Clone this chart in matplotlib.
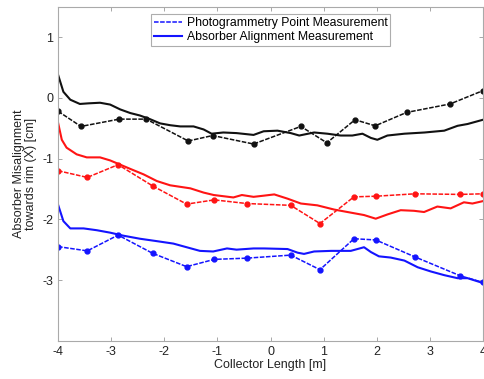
import matplotlib
matplotlib.use("Agg")
import matplotlib.pyplot as plt

plt.rcParams['font.family'] = ['Liberation Sans', 'DejaVu Sans']
plt.rcParams['axes.unicode_minus'] = False

# photogrammetry points (dashed with markers)
blackPtsX = [-4.0, -3.57, -2.85, -2.34, -1.55, -1.09, -0.32, 0.57, 1.06, 1.59, 1.97, 2.56, 3.38, 4.0]
blackPtsY = [-0.22, -0.47, -0.35, -0.35, -0.71, -0.62, -0.76, -0.47, -0.74, -0.36, -0.46, -0.24, -0.10, 0.12]
colorPtsX = [-4.0, -3.45, -2.87, -2.22, -1.58, -1.06, -0.45, 0.38, 0.93, 1.57, 1.98, 2.72, 3.57, 4.0]
redPtsY = [-1.20, -1.31, -1.10, -1.45, -1.75, -1.68, -1.74, -1.77, -2.07, -1.63, -1.62, -1.58, -1.59, -1.58]
bluePtsY = [-2.45, -2.52, -2.26, -2.56, -2.78, -2.66, -2.64, -2.59, -2.83, -2.32, -2.34, -2.62, -2.93, -3.04]

# absorber alignment measurement (solid)
blackLineX = [-4.0, -3.9, -3.77, -3.59, -3.43, -3.21, -3.02, -2.83, -2.64, -2.46, -2.27, -2.08, -1.89, -1.70,
              -1.45, -1.26, -1.11, -0.89, -0.64, -0.32, -0.13, 0.13, 0.38, 0.54, 0.82, 1.07, 1.32, 1.54,
              1.73, 1.89, 2.01, 2.20, 2.52, 2.90, 3.27, 3.52, 3.71, 4.0]
blackLineY = [0.38, 0.10, -0.03, -0.10, -0.09, -0.08, -0.11, -0.19, -0.25, -0.29, -0.35, -0.42, -0.45, -0.47,
              -0.47, -0.52, -0.59, -0.57, -0.58, -0.61, -0.55, -0.54, -0.58, -0.62, -0.57, -0.59, -0.62, -0.62,
              -0.59, -0.66, -0.69, -0.62, -0.59, -0.57, -0.54, -0.46, -0.43, -0.36]
redLineX = [-4.0, -3.93, -3.84, -3.65, -3.46, -3.21, -3.02, -2.83, -2.64, -2.39, -2.14, -1.89, -1.51, -1.26,
            -1.07, -0.70, -0.54, -0.32, -0.12, 0.07, 0.32, 0.57, 0.88, 1.20, 1.51, 1.76, 1.98, 2.20, 2.45,
            2.70, 2.89, 3.14, 3.39, 3.64, 3.80, 4.0]
redLineY = [-0.41, -0.69, -0.82, -0.93, -0.98, -0.98, -1.03, -1.10, -1.17, -1.26, -1.37, -1.44, -1.49, -1.56,
            -1.60, -1.64, -1.60, -1.63, -1.61, -1.59, -1.66, -1.74, -1.77, -1.84, -1.89, -1.93, -1.99, -1.92,
            -1.85, -1.86, -1.88, -1.79, -1.82, -1.72, -1.74, -1.70]
blueLineX = [-4.0, -3.9, -3.77, -3.52, -3.27, -3.02, -2.77, -2.46, -2.14, -1.83, -1.58, -1.33, -1.08, -0.82,
             -0.64, -0.32, -0.12, 0.32, 0.51, 0.63, 0.82, 1.14, 1.51, 1.76, 1.89, 2.04, 2.26, 2.52, 2.77,
             3.02, 3.27, 3.52, 3.71, 4.0]
blueLineY = [-1.76, -2.03, -2.15, -2.15, -2.18, -2.22, -2.27, -2.32, -2.36, -2.40, -2.46, -2.52, -2.53, -2.48,
             -2.50, -2.48, -2.48, -2.49, -2.55, -2.57, -2.53, -2.52, -2.52, -2.46, -2.54, -2.61, -2.63, -2.68,
             -2.79, -2.86, -2.92, -2.97, -2.97, -3.05]

xTicks = [-4, -3, -2, -1, 0, 1, 2, 3, 4]
yTicks = [-3, -2, -1, 0, 1]

fig = plt.figure(figsize=(4.84, 3.79), dpi=100)
ax = fig.add_axes([0.12, 0.101, 0.878, 0.881])

black = '#111111'
red = '#ff1414'
blue = '#1414ff'
dash = (0, (3, 1))

ax.plot(blackPtsX, blackPtsY, color=black, linestyle=dash, linewidth=1.1, marker='o', markersize=3.5)
ax.plot(blackLineX, blackLineY, color=black, linewidth=1.5)
ax.plot(colorPtsX, redPtsY, color=red, linestyle=dash, linewidth=1.1, marker='o', markersize=3.5)
ax.plot(redLineX, redLineY, color=red, linewidth=1.5)
ax.plot(colorPtsX, bluePtsY, color=blue, linestyle=dash, linewidth=1.1, marker='o', markersize=3.5)
ax.plot(blueLineX, blueLineY, color=blue, linewidth=1.5)

# legend entries use blue styling only
h1, = ax.plot([], [], color=blue, linestyle=dash, linewidth=1.1)
h2, = ax.plot([], [], color=blue, linewidth=1.5)
leg = ax.legend([h1, h2], ["Photogrammetry Point Measurement", "Absorber Alignment Measurement"],
                loc='upper center', bbox_to_anchor=(0.5, 0.985), fontsize=8.8, frameon=True,
                fancybox=False, borderpad=0.25, labelspacing=0.15, handlelength=2.3,
                handletextpad=0.4, borderaxespad=0.2)
leg.get_frame().set_edgecolor('#999999')
leg.get_frame().set_linewidth(0.8)

ax.set_xlim(-4, 4)
ax.set_ylim(-4, 1.5)
ax.set_xticks(xTicks)
ax.set_yticks(yTicks)
ax.tick_params(direction='in', length=3, width=0.6, colors='#999999', labelcolor='#222222', labelsize=9,
               top=True, right=True)
for s in ax.spines.values():
    s.set_color('#aaaaaa')
    s.set_linewidth(0.8)

ax.set_xlabel("Collector Length [m]", fontsize=9, color='#222222', labelpad=1)
ax.set_ylabel("Absorber Misalignment\ntowards rim (X) [cm]", fontsize=9, color='#222222', labelpad=4,
              linespacing=1.0)

fig.savefig("out.png", dpi=100)
